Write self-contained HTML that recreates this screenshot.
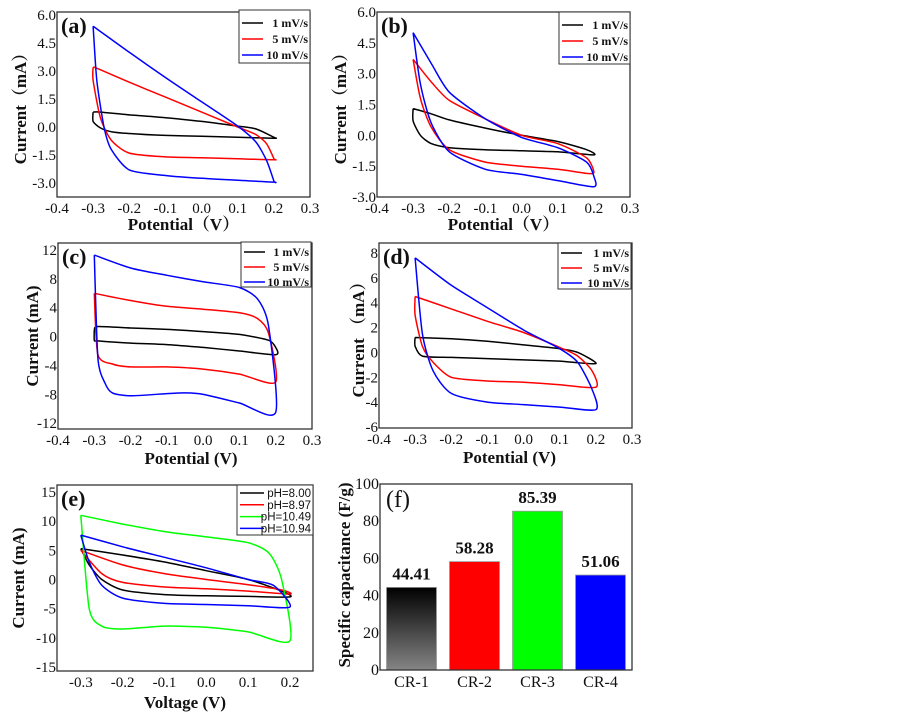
<!DOCTYPE html>
<html><head><meta charset="utf-8">
<style>
html,body{margin:0;padding:0;background:#fff;}
svg{display:block;}
.tk{font-family:"Liberation Serif",serif;font-size:15px;fill:#111;}
.tt{font-family:"Liberation Serif","Noto Serif CJK SC",serif;font-size:17px;font-weight:bold;fill:#111;}
.pl{font-family:"Liberation Serif",serif;font-size:22px;font-weight:bold;fill:#111;}
.lg{font-family:"Liberation Serif",serif;font-size:12px;font-weight:bold;fill:#111;}
.lge{font-family:"Liberation Sans",sans-serif;font-size:11.5px;fill:#111;}
</style></head>
<body>
<svg id="fig" width="903" height="714" viewBox="0 0 903 714" xmlns="http://www.w3.org/2000/svg"></svg>
<script>
// ---- Data ----
const aBlackX=[-0.3,-0.28,-0.2,-0.1,0,0.1,0.15,0.2,0.2,0.1,0,-0.1,-0.2,-0.25,-0.28,-0.3,-0.3];
const aBlackY=[0.8,0.8,0.65,0.5,0.3,0.05,-0.1,-0.55,-0.6,-0.55,-0.5,-0.45,-0.35,-0.25,-0.05,0.3,0.8];
const aRedX=[-0.3,-0.29,-0.2,-0.1,0,0.1,0.15,0.18,0.2,0.2,0.1,0,-0.1,-0.2,-0.25,-0.28,-0.3,-0.3];
const aRedY=[3.2,3.15,2.4,1.6,0.8,0.0,-0.4,-0.9,-1.7,-1.75,-1.7,-1.65,-1.6,-1.4,-0.7,0.5,2.5,3.2];
const aBlueX=[-0.3,-0.2,-0.1,0,0.1,0.15,0.18,0.2,0.2,0.1,0,-0.1,-0.2,-0.25,-0.27,-0.29,-0.3];
const aBlueY=[5.4,4.0,2.65,1.35,0.05,-0.8,-1.8,-2.9,-2.95,-2.85,-2.75,-2.6,-2.3,-1.2,0.0,2.5,5.4];

const bBlackX=[-0.3,-0.25,-0.2,-0.1,0,0.1,0.18,0.2,0.1,0,-0.1,-0.2,-0.25,-0.28,-0.3,-0.3];
const bBlackY=[1.3,1.05,0.75,0.35,0.0,-0.3,-0.7,-0.95,-0.8,-0.75,-0.7,-0.6,-0.4,0.0,0.7,1.3];
const bRedX=[-0.3,-0.25,-0.2,-0.1,0,0.1,0.18,0.2,0.18,0.1,0,-0.1,-0.2,-0.25,-0.28,-0.3];
const bRedY=[3.7,2.6,1.7,0.8,0.0,-0.4,-1.1,-1.8,-1.85,-1.65,-1.5,-1.3,-0.7,0.4,1.8,3.7];
const bBlueX=[-0.3,-0.25,-0.2,-0.1,0,0.1,0.18,0.2,0.2,0.1,0,-0.1,-0.2,-0.25,-0.28,-0.3];
const bBlueY=[5.0,3.5,2.1,0.8,-0.1,-0.6,-1.3,-2.0,-2.5,-2.2,-1.9,-1.65,-0.8,0.6,2.5,5.0];

const cBlackX=[-0.3,-0.29,-0.2,-0.1,0,0.1,0.18,0.2,0.2,0.1,0,-0.1,-0.2,-0.29,-0.3,-0.3];
const cBlackY=[1.0,1.4,1.2,1.0,0.7,0.3,-0.5,-1.5,-2.5,-2.0,-1.5,-1.1,-0.9,-0.6,-0.5,1.0];
const cRedX=[-0.3,-0.2,-0.1,0,0.1,0.15,0.18,0.2,0.1,0,-0.1,-0.2,-0.25,-0.29,-0.3];
const cRedY=[6.0,5.0,4.2,3.8,3.3,2.5,0.5,-6.3,-5.2,-4.5,-4.2,-4.2,-3.8,-2.5,6.0];
const cBlueX=[-0.3,-0.2,-0.1,0,0.1,0.15,0.18,0.2,0.1,0,-0.05,-0.1,-0.2,-0.25,-0.27,-0.29,-0.3];
const cBlueY=[11.3,9.5,8.5,7.6,6.8,5.2,1.5,-10.5,-9.2,-8.0,-7.8,-7.9,-8.2,-7.8,-6.5,-3,11.3];

const dBlackX=[-0.3,-0.2,-0.1,0,0.1,0.15,0.2,0.1,0,-0.1,-0.2,-0.28,-0.3,-0.3];
const dBlackY=[1.2,1.1,0.9,0.6,0.3,0.0,-0.9,-0.7,-0.6,-0.5,-0.4,-0.3,0.5,1.2];
const dRedX=[-0.3,-0.2,-0.1,0,0.1,0.15,0.19,0.2,0.1,0,-0.1,-0.2,-0.25,-0.28,-0.3,-0.3];
const dRedY=[4.5,3.5,2.5,1.6,0.4,-0.3,-1.5,-2.8,-2.6,-2.4,-2.3,-2.0,-0.8,0.5,3.0,4.5];
const dBlueX=[-0.3,-0.2,-0.1,0,0.1,0.15,0.19,0.2,0.1,0,-0.1,-0.2,-0.25,-0.28,-0.3];
const dBlueY=[7.6,5.4,3.6,1.8,0.3,-0.8,-3.0,-4.6,-4.4,-4.2,-4.0,-3.3,-1.5,1.5,7.6];

const eBlackX=[-0.3,-0.2,-0.1,0,0.1,0.18,0.2,0.1,0,-0.1,-0.2,-0.25,-0.28,-0.3];
const eBlackY=[5.3,4.2,3.0,1.5,0.0,-2.0,-3.0,-2.9,-2.8,-2.6,-1.8,0.0,2.5,5.3];
const eRedX=[-0.3,-0.2,-0.1,0,0.1,0.18,0.2,0.1,0,-0.1,-0.2,-0.25,-0.3];
const eRedY=[5.0,2.5,1.0,0.0,-0.9,-1.8,-2.5,-2.0,-1.6,-1.3,-0.5,1.0,5.0];
const eGreenX=[-0.3,-0.2,-0.1,0,0.1,0.15,0.18,0.2,0.1,0,-0.1,-0.2,-0.25,-0.28,-0.3];
const eGreenY=[11.0,9.5,8.2,7.3,6.3,4.5,0.0,-10.5,-9.0,-8.2,-8.0,-8.5,-8.0,-5,11.0];
const eBlueX=[-0.3,-0.2,-0.1,0,0.1,0.16,0.2,0.1,0,-0.1,-0.2,-0.25,-0.28,-0.3];
const eBlueY=[7.6,5.6,3.8,2.0,0.0,-1.0,-4.7,-4.5,-4.3,-4.1,-3.2,-1.0,3,7.6];

const fCategories=["CR-1","CR-2","CR-3","CR-4"];
const fValues=[44.41,58.28,85.39,51.06];
const fLabels=["44.41","58.28","85.39","51.06"];
const fTicks=[0,20,40,60,80,100];

const xTicksCV=["-0.4","-0.3","-0.2","-0.1","0.0","0.1","0.2","0.3"];
const xTicksE=["-0.3","-0.2","-0.1","0.0","0.1","0.2"];
const yTicksA=["6.0","4.5","3.0","1.5","0.0","-1.5","-3.0"];
const yTicksB=["6.0","4.5","3.0","1.5","0.0","-1.5","-3.0"];
const yTicksC=["12","8","4","0","-4","-8","-12"];
const yTicksD=["8","6","4","2","0","-2","-4","-6"];
const yTicksE=["15","10","5","0","-5","-10","-15"];

// ---- Drawing ----
const NS="http://www.w3.org/2000/svg";
const svg=document.getElementById('fig');
function mk(tag,attrs,parent){const e=document.createElementNS(NS,tag);for(const k in attrs)e.setAttribute(k,attrs[k]);(parent||svg).appendChild(e);return e;}
function txt(s,attrs,parent){const e=mk('text',attrs,parent);e.textContent=s;return e;}
function smooth(pts){
  let d='M'+pts[0][0].toFixed(1)+','+pts[0][1].toFixed(1);
  const n=pts.length, t=0.12;
  for(let i=0;i<n-1;i++){
    const p0=pts[Math.max(i-1,0)],p1=pts[i],p2=pts[i+1],p3=pts[Math.min(i+2,n-1)];
    const c1=[p1[0]+(p2[0]-p0[0])*t,p1[1]+(p2[1]-p0[1])*t];
    const c2=[p2[0]-(p3[0]-p1[0])*t,p2[1]-(p3[1]-p1[1])*t];
    d+='C'+c1[0].toFixed(1)+','+c1[1].toFixed(1)+' '+c2[0].toFixed(1)+','+c2[1].toFixed(1)+' '+p2[0].toFixed(1)+','+p2[1].toFixed(1);
  }
  return d;
}

function cvPanel(p){
  const g=mk('g',{});
  
  
  const sx=v=>p.L+(v-p.x0)/(p.x1-p.x0)*(p.R-p.L);
  const sy=v=>p.B-(v-p.y0)/(p.y1-p.y0)*(p.B-p.T);
  p.series.forEach(s=>{
    const pts=s.x.map((xv,i)=>[sx(xv),sy(s.y[i])]);
    const path=mk('path',{d:smooth(pts),fill:'none',stroke:s.c,'stroke-width':1.5,'stroke-linejoin':'round'},g);
    
    
  });
  const fr=mk('rect',{x:p.L,y:p.T,width:p.R-p.L,height:p.B-p.T,fill:'none',stroke:'#333','stroke-width':1.3},g);
  
  
  p.xt.forEach(t=>{const e=txt(t,{x:sx(parseFloat(t)),y:p.B+16,'text-anchor':'middle',class:'tk'},g);
    });
  p.yt.forEach(t=>{const e=txt(t,{x:p.L-1,y:sy(parseFloat(t))+5,'text-anchor':'end',class:'tk'},g);
    });
  const xl=txt(p.xlab,{x:(p.L+p.R)/2+p.xlo,y:p.xly,'text-anchor':'middle',class:'tt'},g);
  
  const yl=txt(p.ylab,{x:0,y:0,'text-anchor':'middle',class:'tt',transform:'translate('+p.ylx+','+((p.T+p.B)/2)+') rotate(-90)'},g);
  
  const pl=txt('('+p.id+')',{x:p.L+4,y:p.T+21,class:'pl'},g);
  
  const lg=p.lg;
  const lgG=mk('g',{},g);
  
  mk('rect',{x:lg.x,y:lg.y,width:lg.w,height:lg.h,fill:'#fff',stroke:'#333','stroke-width':1},lgG);
  p.series.forEach((s,i)=>{
    const yy=lg.y+lg.first+i*lg.step;
    mk('line',{x1:lg.x+3,x2:lg.x+lg.ll,y1:yy,y2:yy,stroke:s.c,'stroke-width':1.5},lgG);
    const t=txt(s.lab,{x:lg.x+lg.w-2,y:yy+4,'text-anchor':'end',class:lg.cls},lgG);
    
  });
}

const rateLabs=['1 mV/s','5 mV/s','10 mV/s'];
const K='#000',RD='#f00',BL='#00f',GR='#0f0';
cvPanel({id:'a',L:57,R:310,T:12,B:197,x0:-0.4,x1:0.3,y0:-3.75,y1:6.16,xt:xTicksCV,yt:yTicksA,
  xlab:'Potential（V）',xly:230,xlo:0,ylab:'Current（mA）',ylx:26,
  series:[{n:'1mvs',c:K,x:aBlackX,y:aBlackY,lab:rateLabs[0]},{n:'5mvs',c:RD,x:aRedX,y:aRedY,lab:rateLabs[1]},{n:'10mvs',c:BL,x:aBlueX,y:aBlueY,lab:rateLabs[2]}],
  lg:{x:239,y:10,w:71,h:53,first:13,step:16,ll:24,cls:'lg'}});
cvPanel({id:'b',L:377,R:630,T:12,B:197,x0:-0.4,x1:0.3,y0:-3,y1:6,xt:xTicksCV,yt:yTicksB,
  xlab:'Potential（V）',xly:230,xlo:0,ylab:'Current（mA）',ylx:346,
  series:[{n:'1mvs',c:K,x:bBlackX,y:bBlackY,lab:rateLabs[0]},{n:'5mvs',c:RD,x:bRedX,y:bRedY,lab:rateLabs[1]},{n:'10mvs',c:BL,x:bBlueX,y:bBlueY,lab:rateLabs[2]}],
  lg:{x:559,y:12,w:71,h:52,first:13,step:16,ll:24,cls:'lg'}});
cvPanel({id:'c',L:58,R:312,T:243,B:429,x0:-0.4,x1:0.3,y0:-12.8,y1:12.97,xt:xTicksCV,yt:yTicksC,
  xlab:'Potential (V)',xly:464,xlo:6,ylab:'Current  (mA)',ylx:38,
  series:[{n:'1mvs',c:K,x:cBlackX,y:cBlackY,lab:rateLabs[0]},{n:'5mvs',c:RD,x:cRedX,y:cRedY,lab:rateLabs[1]},{n:'10mvs',c:BL,x:cBlueX,y:cBlueY,lab:rateLabs[2]}],
  lg:{x:241,y:242,w:70,h:45,first:10,step:15,ll:24,cls:'lg'}});
cvPanel({id:'d',L:379,R:632,T:243,B:428,x0:-0.4,x1:0.3,y0:-6.08,y1:8.8,xt:xTicksCV,yt:yTicksD,
  xlab:'Potential (V)',xly:463,xlo:4,ylab:'Current  （mA）',ylx:364,
  series:[{n:'1mvs',c:K,x:dBlackX,y:dBlackY,lab:rateLabs[0]},{n:'5mvs',c:RD,x:dRedX,y:dRedY,lab:rateLabs[1]},{n:'10mvs',c:BL,x:dBlueX,y:dBlueY,lab:rateLabs[2]}],
  lg:{x:558,y:243,w:73,h:46,first:10,step:15,ll:24,cls:'lg'}});
cvPanel({id:'e',L:57,R:313,T:485,B:671,x0:-0.357,x1:0.255,y0:-15.7,y1:16.2,xt:xTicksE,yt:yTicksE,
  xlab:'Voltage (V)',xly:708,xlo:0,ylab:'Current (mA)',ylx:24,
  series:[{n:'ph8-00',c:K,x:eBlackX,y:eBlackY,lab:'pH=8.00'},{n:'ph8-97',c:RD,x:eRedX,y:eRedY,lab:'pH=8.97'},{n:'ph10-49',c:GR,x:eGreenX,y:eGreenY,lab:'pH=10.49'},{n:'ph10-94',c:BL,x:eBlueX,y:eBlueY,lab:'pH=10.94'}],
  lg:{x:237,y:485,w:76,h:50,first:8,step:11.8,ll:27,cls:'lge'}});

// ---- Bar chart (f) ----
(function(){
  const L=380,R=632,T=484,B=670;
  const g=mk('g',{});
  
  
  const defs=mk('defs',{},g);
  const lgd=mk('linearGradient',{id:'gk',x1:0,y1:0,x2:0,y2:1},defs);
  mk('stop',{offset:'0','stop-color':'#000'},lgd);
  mk('stop',{offset:'1','stop-color':'#858585'},lgd);
  const colors=['url(#gk)','#f00','#0f0','#00f'];
  const sy=v=>B-v/100*(B-T);
  const band=(R-L)/fCategories.length;
  const bw=50;
  fCategories.forEach((c,i)=>{
    const cx=L+band*(i+0.5);
    const r=mk('rect',{x:cx-bw/2,y:sy(fValues[i]),width:bw,height:B-sy(fValues[i]),fill:colors[i],stroke:'#999','stroke-width':0.8},g);
    
    
    const v=txt(fLabels[i],{x:cx,y:sy(fValues[i])-8,'text-anchor':'middle',class:'tt'},g);
    
    
    const t=txt(c,{x:cx,y:B+17,'text-anchor':'middle',class:'tk',style:'font-size:16px'},g);
    
    
  });
  const fr=mk('rect',{x:L,y:T,width:R-L,height:B-T,fill:'none',stroke:'#333','stroke-width':1.3},g);
  
  
  fTicks.forEach(t=>{const e=txt(String(t),{x:L-1,y:sy(t)+5,'text-anchor':'end',class:'tk',style:'font-size:16px'},g);
    });
  const yl=txt('Specific capacitance  (F/g)',{x:0,y:0,'text-anchor':'middle',class:'tt',transform:'translate(350,575) rotate(-90)'},g);
  
  const pl=txt('(f)',{x:L+6,y:T+23,class:'pl',style:'font-weight:normal;font-size:24px'},g);
  
})();
</script>
</body></html>
